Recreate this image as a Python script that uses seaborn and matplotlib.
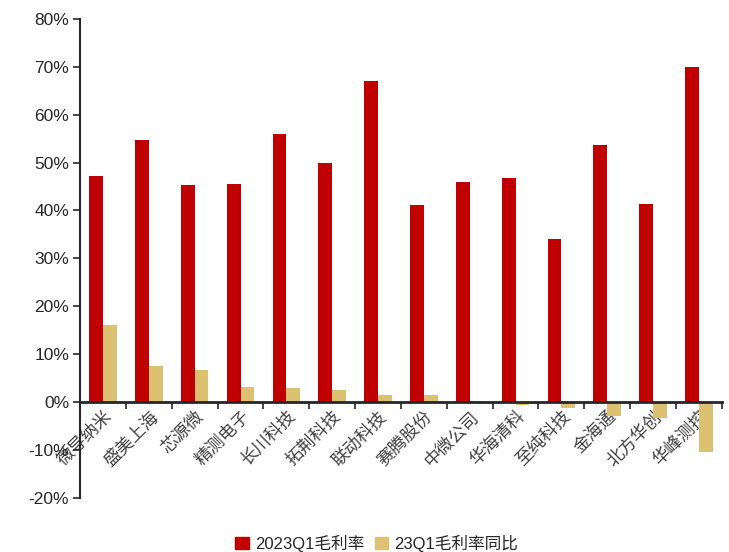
import pandas as pd
import seaborn as sns
import matplotlib.pyplot as plt
from matplotlib.ticker import FuncFormatter, FixedLocator

# Datos (en %)
empresas = ['微导纳米', '盛美上海', '芯源微', '精测电子', '长川科技', '拓荆科技', '联动科技',
            '赛腾股份', '中微公司', '华海清科', '至纯科技', '金海通', '北方华创', '华峰测控']
margen_2023q1 = [47.2, 54.7, 45.3, 45.5, 56.0, 49.9, 67.0,
                 41.1, 45.9, 46.8, 34.0, 53.6, 41.3, 69.9]
cambio_yoy = [16.1, 7.5, 6.7, 3.1, 2.9, 2.5, 1.5,
              1.4, 0.3, -0.6, -1.3, -3.0, -3.4, -10.4]
series = ['2023Q1毛利率', '23Q1毛利率同比']
colores = ['#C00000', '#DCC173']

df = pd.DataFrame({
    '公司': empresas * 2,
    '值': margen_2023q1 + cambio_yoy,
    '指标': [series[0]] * len(empresas) + [series[1]] * len(empresas),
})

sns.set_style('white')
plt.rcParams['font.family'] = ['Liberation Sans', 'Noto Sans CJK SC', 'DejaVu Sans']

fig = plt.figure(figsize=(7.29, 5.52), dpi=100)
ax = fig.add_axes([0.11, 0.098, 0.88, 0.868])

sns.barplot(data=df, x='公司', y='值', hue='指标', palette=colores,
            width=0.6, saturation=1, linewidth=0, ax=ax, legend=False)

ax.set_ylim(-20, 80)
ax.set_xlim(-0.5, len(empresas) - 0.5)
ax.yaxis.set_major_locator(FixedLocator(range(-20, 81, 10)))
ax.yaxis.set_major_formatter(FuncFormatter(lambda v, p: f'{v:.0f}%'))
ax.tick_params(axis='y', direction='out', length=5, width=1.2, labelsize=12.5, left=True, pad=3)

# eje x en el cero, ticks entre categorias
for s in ['top', 'right']:
    ax.spines[s].set_visible(False)
ax.spines['left'].set_linewidth(1.5)
ax.spines['bottom'].set_position(('data', 0))
ax.spines['bottom'].set_linewidth(2)
ax.set_xticks([i - 0.5 for i in range(len(empresas) + 1)], minor=True)
ax.tick_params(axis='x', which='minor', direction='out', length=5, width=1.2, bottom=True)
ax.tick_params(axis='x', which='major', length=0, pad=4)
ax.set_xticks(range(len(empresas)))
ax.set_xticklabels(empresas, rotation=45, ha='right', va='top', rotation_mode='anchor',
                   fontsize=12.5, color='#404040', family=['Noto Sans CJK SC'])
for t in ax.get_xticklabels():
    t.set_zorder(0.5)
ax.set_xlabel('')
ax.set_ylabel('')

handles = [plt.Rectangle((0, 0), 1, 1, color=c) for c in colores]
fig.legend(handles, series, loc='center', bbox_to_anchor=(0.517, 0.016), ncol=2,
           frameon=False, fontsize=12, handlelength=0.8, handleheight=0.8,
           handletextpad=0.4, columnspacing=0.6)

plt.savefig('out.png', dpi=100)
